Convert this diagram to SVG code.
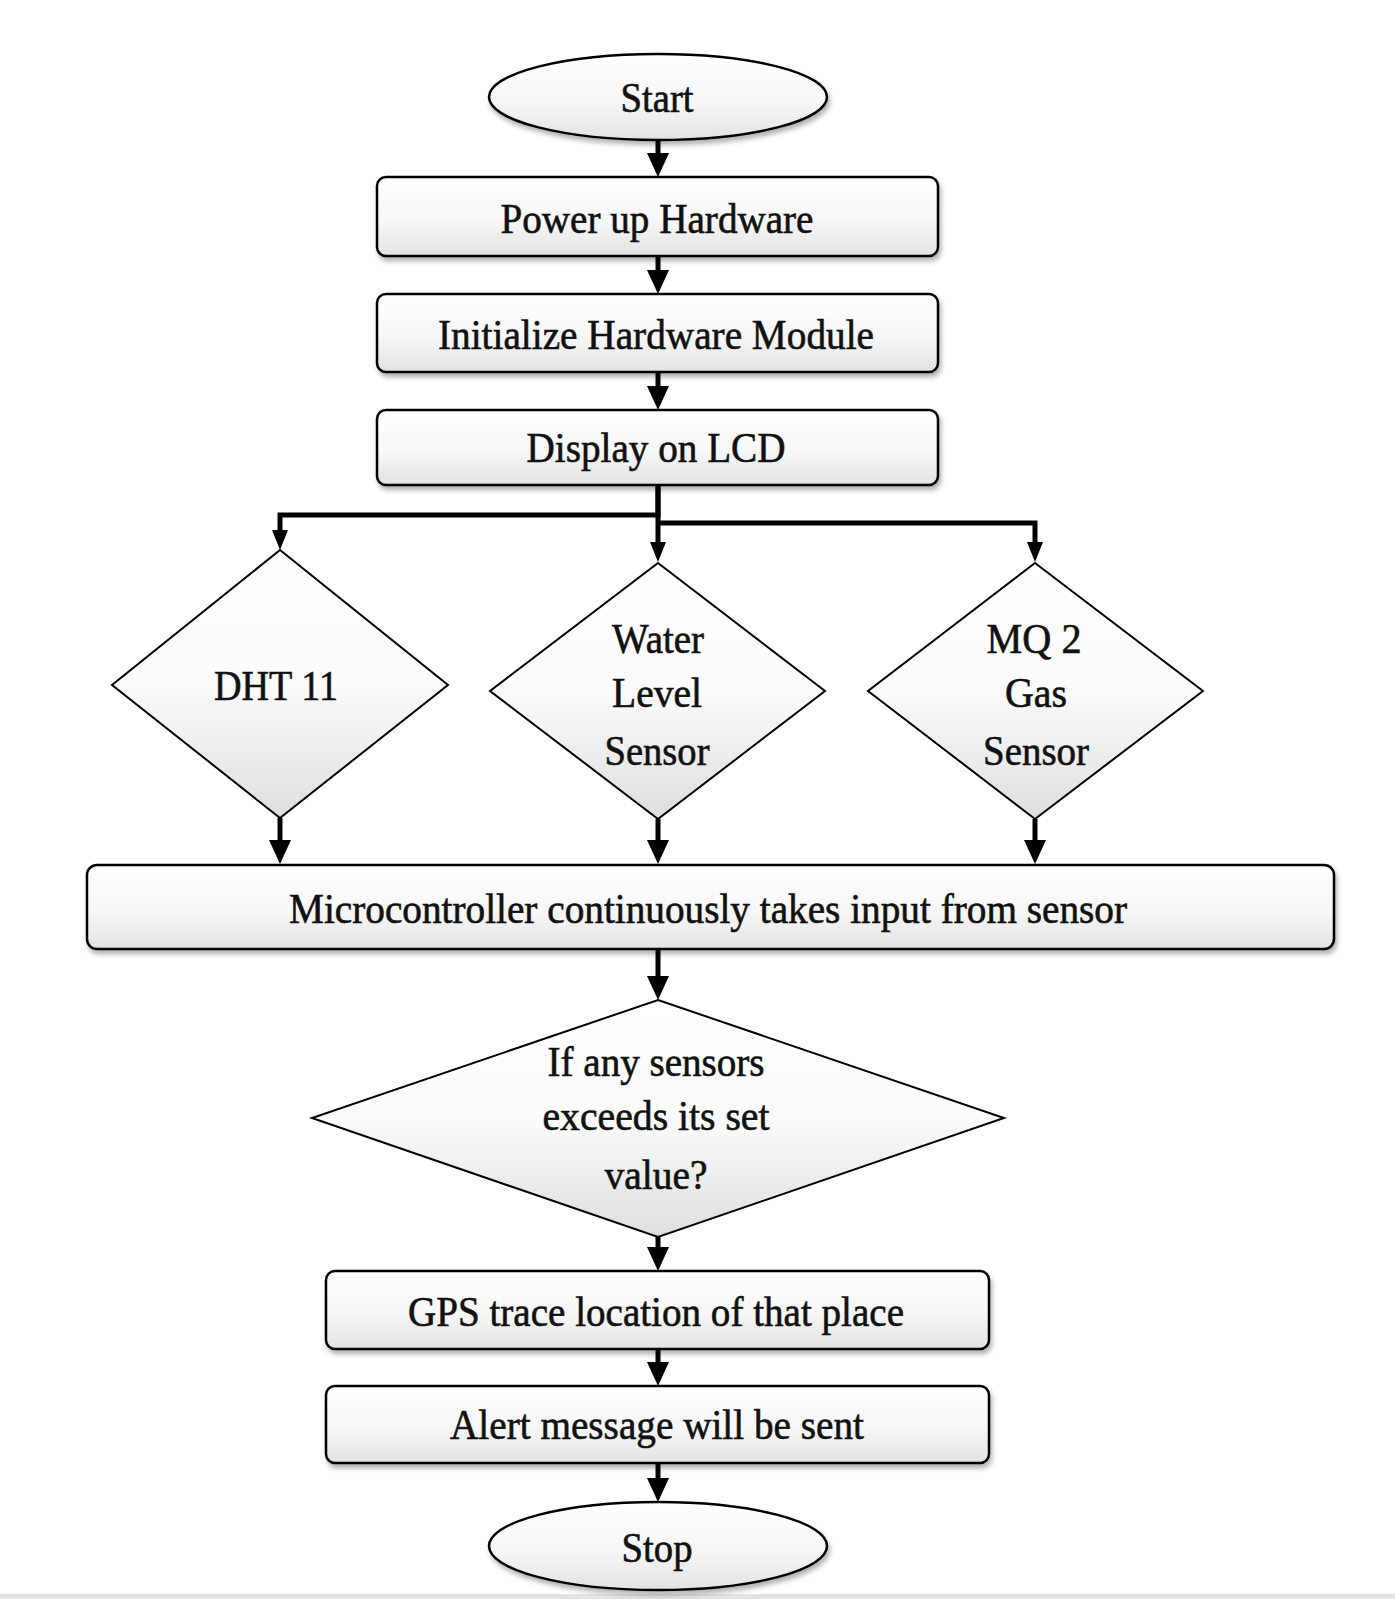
<svg xmlns="http://www.w3.org/2000/svg" width="1395" height="1599" viewBox="0 0 1395 1599">
  <defs>
    <linearGradient id="boxFill" x1="0" y1="0" x2="0" y2="1">
      <stop offset="0" stop-color="#ffffff"/>
      <stop offset="0.55" stop-color="#f7f7f7"/>
      <stop offset="1" stop-color="#e2e2e2"/>
    </linearGradient>
    <linearGradient id="diamondFill" x1="0" y1="0" x2="0" y2="1">
      <stop offset="0" stop-color="#ffffff"/>
      <stop offset="0.5" stop-color="#fbfbfb"/>
      <stop offset="1" stop-color="#dedede"/>
    </linearGradient>
    <filter id="shadow" x="-5%" y="-20%" width="110%" height="150%">
      <feDropShadow dx="2" dy="4" stdDeviation="2.5" flood-color="#000" flood-opacity="0.3"/>
    </filter>
    <marker id="head" viewBox="0 0 24 22" refX="1" refY="11" markerWidth="24" markerHeight="22" markerUnits="userSpaceOnUse" orient="auto">
      <path d="M0,0 L24,11 L0,22 z" fill="#000"/>
    </marker>
    <marker id="headSmall" viewBox="0 0 20 16" refX="1" refY="8" markerWidth="20" markerHeight="16" markerUnits="userSpaceOnUse" orient="auto">
      <path d="M0,0 L20,8 L0,16 z" fill="#000"/>
    </marker>
  </defs>
  <style>
    .box { fill: url(#boxFill); stroke: #000; stroke-width: 2.5; filter: url(#shadow); }
    .term { fill: url(#boxFill); stroke: #000; stroke-width: 2.5; filter: url(#shadow); }
    .dia { fill: url(#diamondFill); stroke: #000; stroke-width: 2; }
    .lbl { font-family: "Liberation Serif", "Times New Roman", serif; font-size: 42px; fill: #111; stroke: #111; stroke-width: 0.6; text-anchor: middle; }
    .wire { fill: none; stroke: #000; stroke-width: 5; }
    .arrow { marker-end: url(#head); }
    .arrowS { marker-end: url(#headSmall); }
  </style>

  <rect x="0" y="0" width="1395" height="1599" fill="#ffffff"/>
  <rect x="0" y="1594" width="1395" height="5" fill="#e4e4e4"/>

  <!-- connectors -->
  <g id="connectors">
    <path class="wire arrow" d="M658,141 V154"/>
    <path class="wire arrow" d="M658,256 V271"/>
    <path class="wire arrow" d="M658,372 V387"/>
    <path class="wire arrowS" d="M658,485 V515 H280 V531"/>
    <path class="wire arrowS" d="M658,485 V543"/>
    <path class="wire arrowS" d="M658,523 H1035 V543"/>
    <path class="wire arrow" d="M280,818 V841"/>
    <path class="wire arrow" d="M658,819 V841"/>
    <path class="wire arrow" d="M1035,819 V841"/>
    <path class="wire arrow" d="M658,949 V977"/>
    <path class="wire arrow" d="M658,1237 V1248"/>
    <path class="wire arrow" d="M658,1349 V1363"/>
    <path class="wire arrow" d="M658,1463 V1479"/>
  </g>

  <g id="start">
    <ellipse class="term" cx="658" cy="97" rx="169" ry="43"/>
    <text class="lbl" x="657" y="112" textLength="73" lengthAdjust="spacingAndGlyphs">Start</text>
  </g>

  <g id="power-up">
    <rect class="box" x="377" y="177" width="561" height="79" rx="9"/>
    <text class="lbl" x="657" y="233" textLength="313" lengthAdjust="spacingAndGlyphs">Power up Hardware</text>
  </g>

  <g id="initialize">
    <rect class="box" x="377" y="294" width="561" height="78" rx="9"/>
    <text class="lbl" x="656" y="349" textLength="436" lengthAdjust="spacingAndGlyphs">Initialize Hardware Module</text>
  </g>

  <g id="display-lcd">
    <rect class="box" x="377" y="410" width="561" height="75" rx="9"/>
    <text class="lbl" x="656" y="462" textLength="259" lengthAdjust="spacingAndGlyphs">Display on LCD</text>
  </g>

  <g id="dht11">
    <polygon class="dia" points="280,550 448,685 280,818 112,685"/>
    <text class="lbl" x="276" y="700" textLength="124" lengthAdjust="spacingAndGlyphs">DHT 11</text>
  </g>

  <g id="water-level">
    <polygon class="dia" points="658,563 825,691 658,819 490,691"/>
    <text class="lbl" x="658" y="653" textLength="92" lengthAdjust="spacingAndGlyphs">Water</text>
    <text class="lbl" x="657" y="707" textLength="90" lengthAdjust="spacingAndGlyphs">Level</text>
    <text class="lbl" x="657" y="765" textLength="105" lengthAdjust="spacingAndGlyphs">Sensor</text>
  </g>

  <g id="mq2">
    <polygon class="dia" points="1035,563 1203,691 1035,819 868,691"/>
    <text class="lbl" x="1034" y="653" textLength="95" lengthAdjust="spacingAndGlyphs">MQ 2</text>
    <text class="lbl" x="1036" y="707" textLength="62" lengthAdjust="spacingAndGlyphs">Gas</text>
    <text class="lbl" x="1036" y="765" textLength="106" lengthAdjust="spacingAndGlyphs">Sensor</text>
  </g>

  <g id="microcontroller">
    <rect class="box" x="87" y="865" width="1247" height="84" rx="10"/>
    <text class="lbl" x="708" y="923" textLength="838" lengthAdjust="spacingAndGlyphs">Microcontroller continuously takes input from sensor</text>
  </g>

  <g id="threshold-check">
    <polygon class="dia" points="658,1000 1004,1118 658,1237 312,1118"/>
    <text class="lbl" x="656" y="1076" textLength="217" lengthAdjust="spacingAndGlyphs">If any sensors</text>
    <text class="lbl" x="656" y="1130" textLength="227" lengthAdjust="spacingAndGlyphs">exceeds its set</text>
    <text class="lbl" x="656" y="1189" textLength="103" lengthAdjust="spacingAndGlyphs">value?</text>
  </g>

  <g id="gps-trace">
    <rect class="box" x="326" y="1271" width="663" height="78" rx="9"/>
    <text class="lbl" x="656" y="1326" textLength="496" lengthAdjust="spacingAndGlyphs">GPS trace location of that place</text>
  </g>

  <g id="alert">
    <rect class="box" x="326" y="1386" width="663" height="77" rx="9"/>
    <text class="lbl" x="657" y="1439" textLength="414" lengthAdjust="spacingAndGlyphs">Alert message will be sent</text>
  </g>

  <g id="stop">
    <ellipse class="term" cx="658" cy="1546" rx="169" ry="44"/>
    <text class="lbl" x="657" y="1562" textLength="71" lengthAdjust="spacingAndGlyphs">Stop</text>
  </g>
</svg>
